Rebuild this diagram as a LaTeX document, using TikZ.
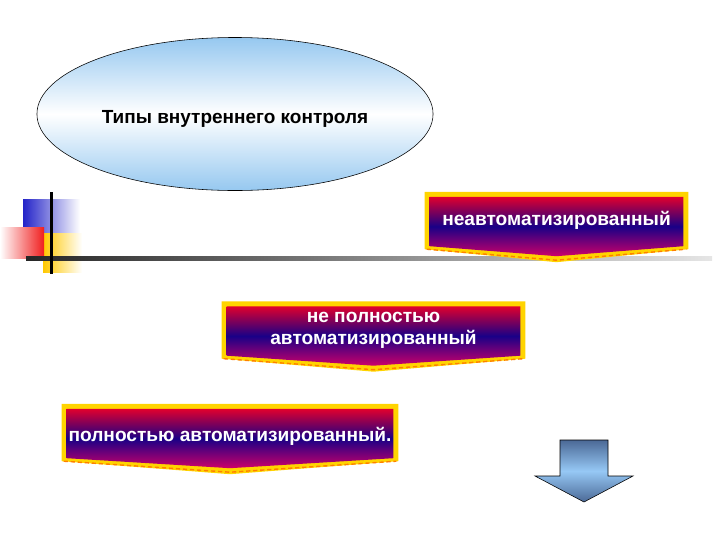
\documentclass[tikz,border=0pt]{standalone}
\usepackage{fontspec}
\setmainfont{Liberation Sans}
\usetikzlibrary{shapes.geometric,backgrounds,calc}
\definecolor{bannerred}{RGB}{225,0,45}
\definecolor{bannerblue}{RGB}{25,0,135}
\definecolor{bannerpink}{RGB}{205,0,105}
\definecolor{banneryellow}{RGB}{255,212,0}
\definecolor{skyblue}{RGB}{150,200,240}
\definecolor{arrowdark}{RGB}{75,105,150}
\definecolor{arrowlight}{RGB}{150,200,245}
\definecolor{decoblue}{RGB}{35,35,200}
\definecolor{decoyellow}{RGB}{255,200,0}
\definecolor{decored}{RGB}{240,30,30}
\tikzset{
  title ellipse/.style={
    ellipse, draw=black, thin,
    top color=skyblue, bottom color=skyblue, middle color=white,
    minimum width=9.9cm, minimum height=3.825cm,
    font=\fontsize{13.5}{16}\selectfont\bfseries
  },
  type banner/.style={
    rectangle, inner sep=0pt, align=center, text=white,
    minimum height=1.42cm,
    font=\fontsize{13.6}{15.5}\selectfont\bfseries
  },
  lower text/.style={text height=13pt, text depth=0pt},
  banner frame/.style={fill=banneryellow},
  banner face/.style={top color=bannerred, bottom color=bannerpink, middle color=bannerblue},
  banner hem/.style={densely dashed, orange, line width=1pt},
  block arrow/.style={draw=black, thin, top color=arrowdark, bottom color=arrowdark, middle color=arrowlight}
}
\begin{document}
\begin{tikzpicture}[x=0.025cm, y=-0.025cm]
  \useasboundingbox (0,0) rectangle (720,540);

  \node[title ellipse, lower text] (types) at (235,114) {Типы внутреннего контроля};

  \node[type banner, minimum width=6.575cm] (nonauto) at (556.5,220.5) {неавтоматизированный};
  \node[type banner, minimum width=7.575cm] (partial) at (373.5,330) {не полностью\\автоматизированный};
  \node[type banner, minimum width=8.4cm, lower text] (full) at (230,432.5) {полностью автоматизированный.};

  \begin{scope}[on background layer]
    % corner decoration
    \shade[left color=decoblue, right color=white] (23,199) rectangle (80,233);
    \shade[left color=decoyellow, right color=white] (43,233) rectangle (82,272);
    \shade[left color=white, right color=decored] (0,227) rectangle (44,258);
    \shade[left color=black!85, right color=black!10] (26,256.5) rectangle (712,260);
    \fill[black] (49.5,192) rectangle (52.5,274);
    \foreach \b in {nonauto,partial,full}{
      \fill[banner frame] (\b.north west) -- (\b.north east) -- (\b.south east)
        -- ($(\b.south)+(0,13)$) -- (\b.south west) -- cycle;
      \shade[banner face] ($(\b.north west)+(5,5)$) -- ($(\b.north east)+(-5,5)$)
        -- ($(\b.south east)+(-5,-3)$) -- ($(\b.south)+(0,7)$)
        -- ($(\b.south west)+(5,-3)$) -- cycle;
      \draw[banner hem] ($(\b.south west)+(2,0)$) -- ($(\b.south)+(0,11)$) -- ($(\b.south east)+(-2,0)$);
    }
  \end{scope}

  % down arrow
  \shade[block arrow] (560,440) -- (608,440) -- (608,476) -- (633,476)
    -- (584,502) -- (535,476) -- (560,476) -- cycle;
\end{tikzpicture}
\end{document}
